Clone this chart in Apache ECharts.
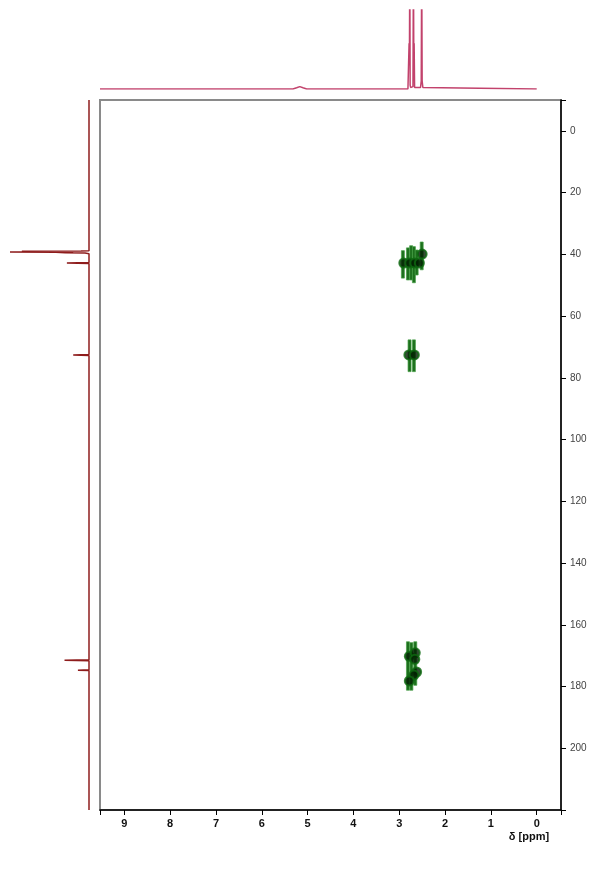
<!DOCTYPE html>
<html>
<head>
<meta charset="utf-8">
<script src="https://cdn.jsdelivr.net/npm/echarts@6/dist/echarts.min.js"></script>
<style>
html,body{margin:0;padding:0;background:#fff;}
#chart{width:611px;height:880px;}
</style>
</head>
<body>
<div id="chart"></div>
<script>
// ---- Axis ranges and tick labels ----
const hRange = [-0.53, 9.53];          // 1H axis (ppm), drawn reversed
const cRange = [-10, 220];             // 13C axis (ppm), drawn downward
const hTickLabels = [9, 8, 7, 6, 5, 4, 3, 2, 1, 0];
const cTickLabels = [0, 20, 40, 60, 80, 100, 120, 140, 160, 180, 200];

// ---- 1H projection (top): shift (ppm) and intensity ----
const protonShift = [9.53, 5.32, 5.24, 5.17, 5.10, 5.02, 2.81, 2.795, 2.785, 2.778, 2.770, 2.762, 2.752,
  2.700, 2.690, 2.682, 2.675, 2.665, 2.650, 2.535, 2.520, 2.510, 2.500, 2.485, 2.47, 0.00];
const protonIntensity = [0, 0, 0.015, 0.03, 0.015, 0, 0, 0.02, 0.58, 0.3, 1.6, 0.05, 0.02,
  0.03, 1.6, 0.3, 0.58, 0.02, 0, 0.02, 0.1, 1.6, 0.1, 0.02, 0, 0];

// ---- 13C projection (left): shift (ppm) and intensity ----
const carbonShift = [-10, 38.8, 38.95, 39.0, 39.1, 39.2, 39.3, 39.4, 39.5, 39.6, 39.8,
  42.65, 42.8, 42.95, 72.45, 72.6, 72.75, 171.35, 171.5, 171.65, 174.55, 174.7, 174.85, 220];
const carbonIntensity = [0, 0, 0.1, 0.85, 0.2, 1.0, 0.42, 0.42, 0.3, 0.05, 0,
  0, 0.28, 0, 0, 0.2, 0, 0, 0.31, 0, 0, 0.14, 0, 0];

// ---- Cross peaks (centres) ----
const crossH = [2.90, 2.77, 2.66, 2.56, 2.50, 2.79, 2.67, 2.78, 2.65, 2.66, 2.62, 2.68, 2.78];
const crossC = [42.8, 42.8, 42.8, 42.8, 39.9, 72.6, 72.6, 170.2, 169.1, 171.2, 175.3, 176.3, 178.2];

// ---- Cross-peak contour streaks: 1H position, 13C top, 13C bottom ----
const streakH = [2.92, 2.81, 2.74, 2.68, 2.62, 2.51, 2.775, 2.68, 2.81, 2.735, 2.65];
const streakCTop = [38.8, 37.9, 37.2, 37.5, 38.6, 36.0, 67.7, 67.7, 165.5, 165.8, 165.5];
const streakCBottom = [47.7, 48.3, 48.3, 49.2, 46.7, 45.0, 78.0, 78.0, 181.2, 181.2, 179.6];

const FONT = 'Arial, "Liberation Sans", sans-serif';

const protonData = protonShift.map((s, i) => [s, protonIntensity[i]]);
const carbonData = carbonShift.map((s, i) => [carbonIntensity[i], s]);
const crossData = crossH.map((h, i) => [h, crossC[i]]);
const streakData = streakH.map((h, i) => [h, streakCTop[i], streakCBottom[i]]);

const chart = echarts.init(document.getElementById('chart'), null, {renderer: 'canvas'});
chart.setOption({
  animation: false,
  backgroundColor: '#fff',
  grid: [
    {left: 100, top: 100, width: 461, height: 710, show: true, borderColor: '#8a8a8a', borderWidth: 2, backgroundColor: 'transparent'},
    {left: 100, top: 10, width: 461, height: 79},
    {left: 10, top: 100, width: 79, height: 710}
  ],
  xAxis: [
    {
      gridIndex: 0, type: 'value', min: hRange[0], max: hRange[1], inverse: true, position: 'bottom',
      axisLine: {show: true, onZero: false, lineStyle: {color: '#000', width: 1.5}},
      axisTick: {show: true, length: 5, lineStyle: {color: '#000', width: 1}, customValues: [hRange[1]].concat(hTickLabels, [hRange[0]])},
      axisLabel: {show: true, customValues: hTickLabels, margin: 8, color: '#111', fontSize: 11, fontWeight: 'bold', fontFamily: FONT},
      splitLine: {show: false}
    },
    {gridIndex: 1, type: 'value', min: hRange[0], max: hRange[1], inverse: true, show: false},
    {gridIndex: 2, type: 'value', min: 0, max: 1, inverse: true, show: false}
  ],
  yAxis: [
    {
      gridIndex: 0, type: 'value', min: cRange[0], max: cRange[1], inverse: true, position: 'right',
      axisLine: {show: true, onZero: false, lineStyle: {color: '#000', width: 1.5}},
      axisTick: {show: true, length: 5, lineStyle: {color: '#000', width: 1}, customValues: [cRange[0]].concat(cTickLabels, [cRange[1]])},
      axisLabel: {show: true, customValues: cTickLabels, margin: 9, color: '#444', fontSize: 10, fontFamily: FONT},
      splitLine: {show: false}
    },
    {gridIndex: 1, type: 'value', min: 0, max: 1, show: false},
    {gridIndex: 2, type: 'value', min: cRange[0], max: cRange[1], inverse: true, show: false}
  ],
  graphic: [
    {type: 'text', style: {text: 'δ [ppm]', x: 529, y: 837, align: 'center', verticalAlign: 'middle', font: 'bold 11px ' + FONT, fill: '#111'}}
  ],
  series: [
    {
      type: 'line', xAxisIndex: 1, yAxisIndex: 1, data: protonData, showSymbol: false, clip: true,
      lineStyle: {color: '#c2426c', width: 1.5}, silent: true
    },
    {
      type: 'line', xAxisIndex: 2, yAxisIndex: 2, data: carbonData, showSymbol: false, clip: true,
      lineStyle: {color: '#8e1c1c', width: 1.5}, silent: true
    },
    {
      type: 'custom', xAxisIndex: 0, yAxisIndex: 0, data: streakData, encode: {x: 0, y: [1, 2]},
      renderItem: function (params, api) {
        const a = api.coord([api.value(0), api.value(1)]);
        const b = api.coord([api.value(0), api.value(2)]);
        return {
          type: 'rect',
          shape: {x: a[0] - 1.5, y: a[1], width: 3, height: b[1] - a[1]},
          style: {fill: '#1d6f1d', stroke: 'rgba(70,160,70,0.7)', lineWidth: 1}
        };
      },
      silent: true
    },
    {
      type: 'scatter', xAxisIndex: 0, yAxisIndex: 0, data: crossData, symbol: 'circle', symbolSize: 9,
      itemStyle: {color: '#031f03', borderColor: '#0e6a10', borderWidth: 2}, silent: true
    }
  ]
});
</script>
</body>
</html>
